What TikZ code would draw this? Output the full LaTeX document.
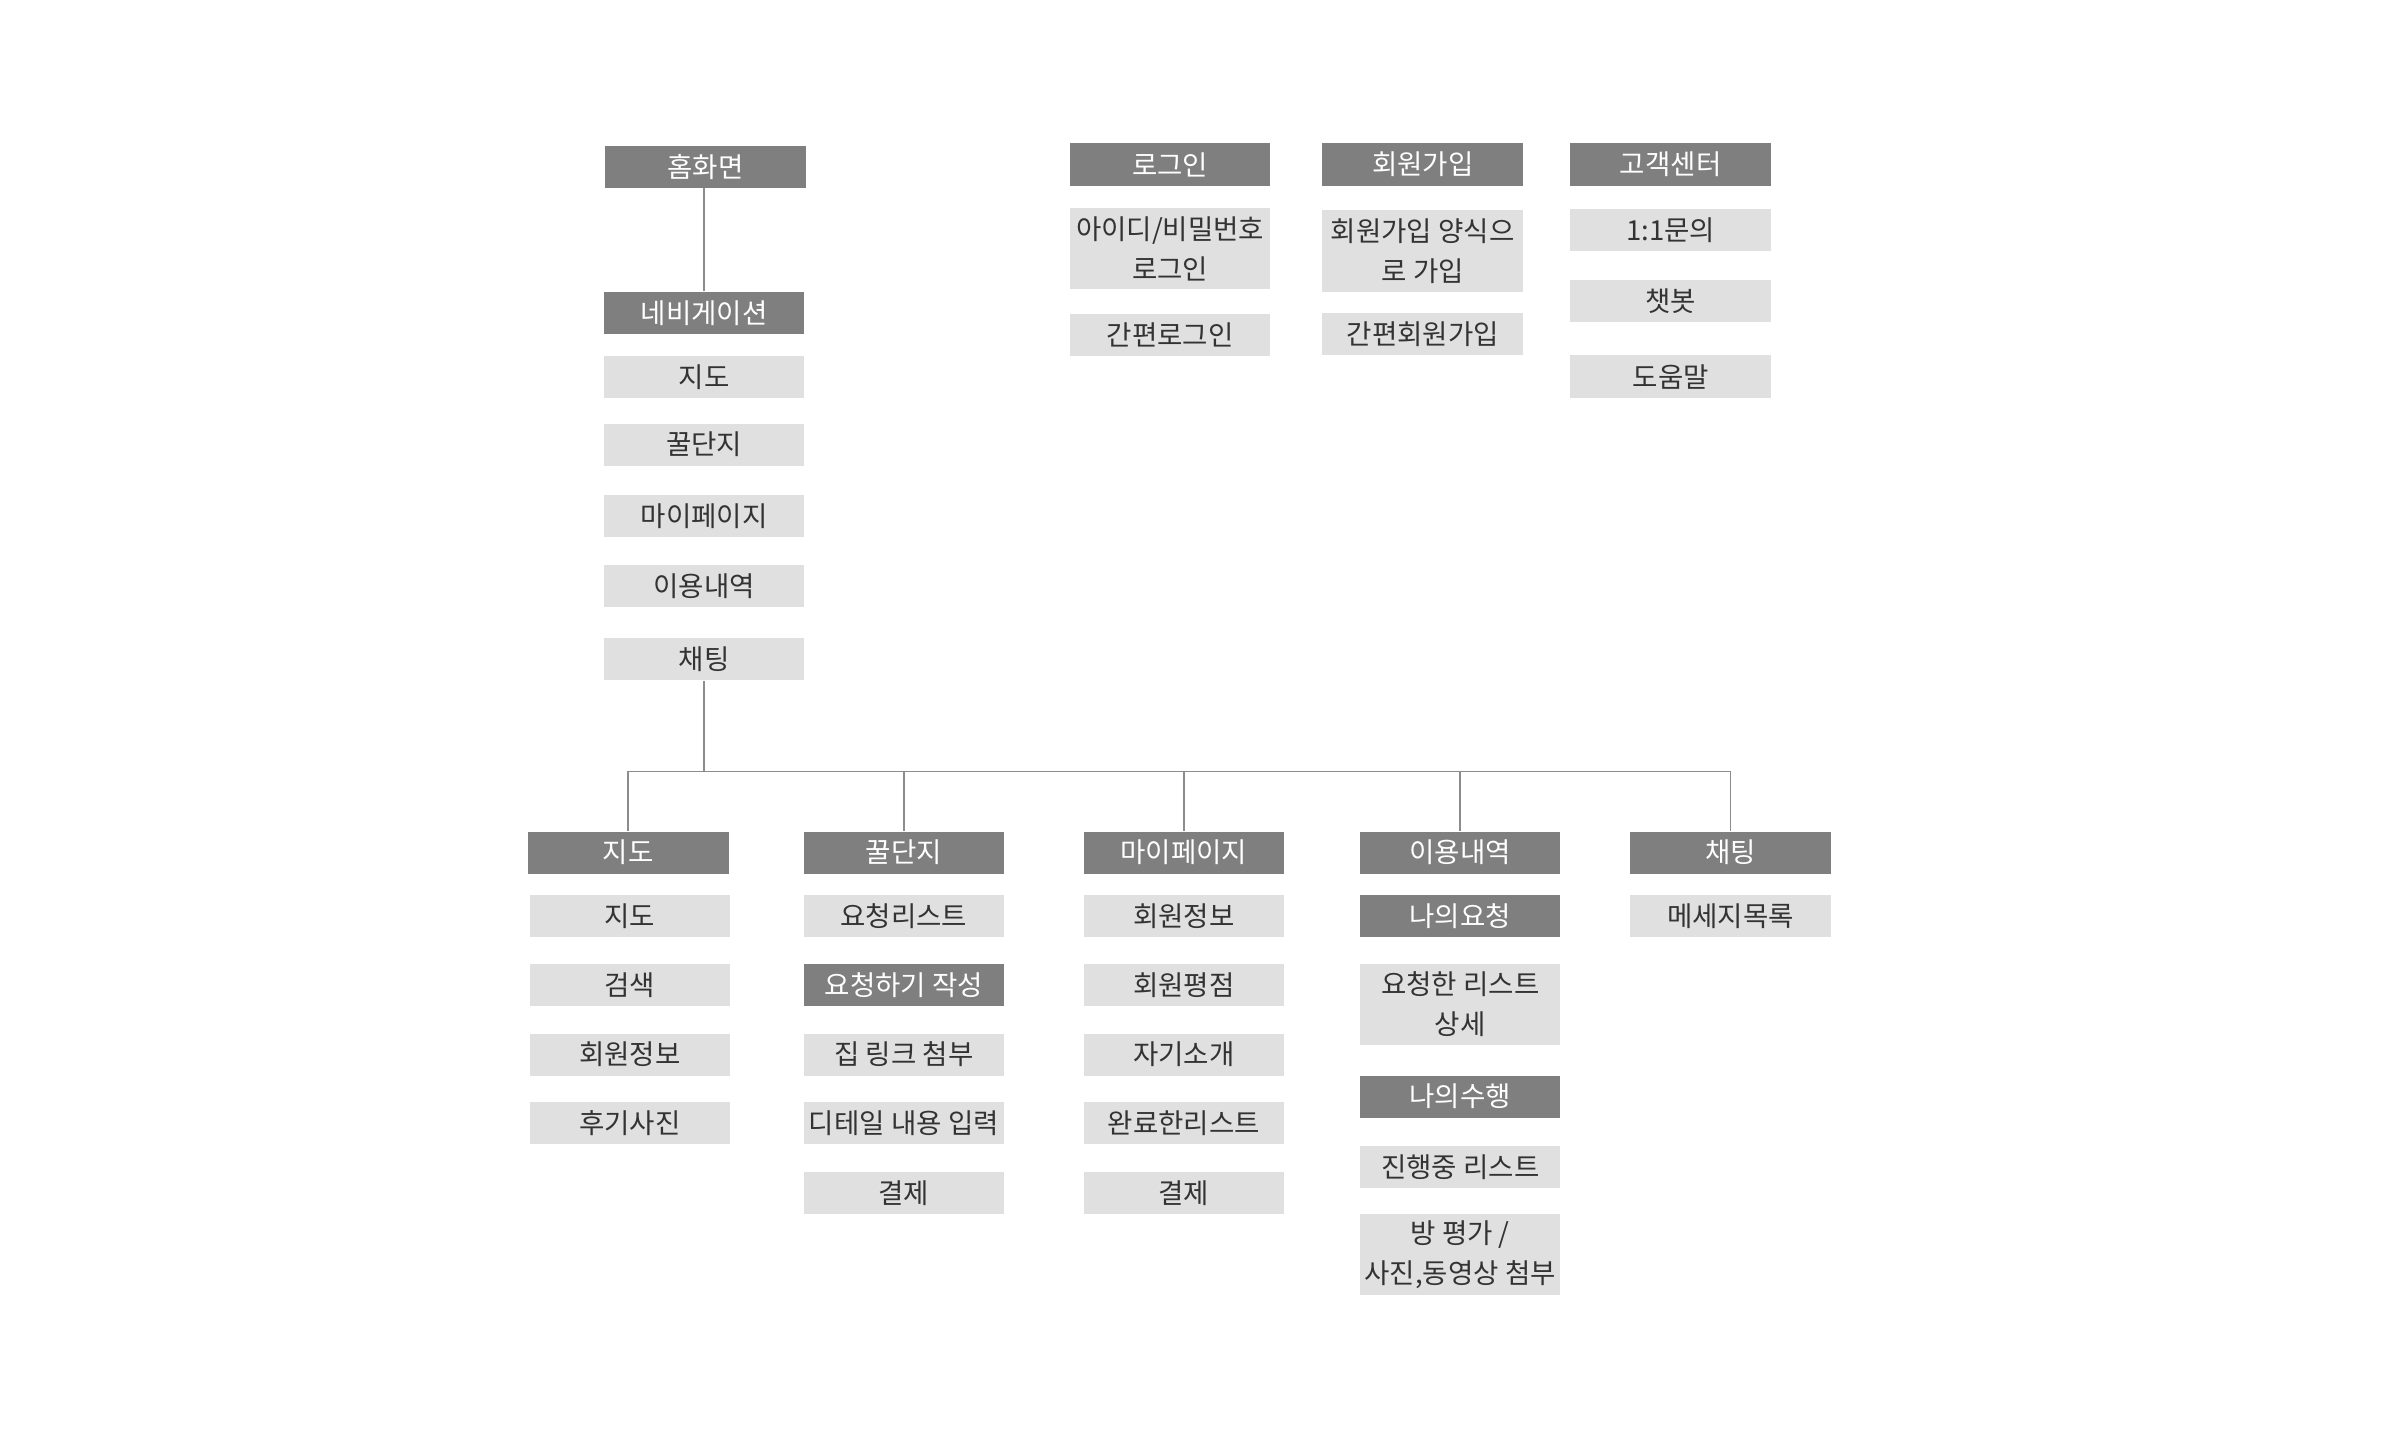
\documentclass[tikz,border=0pt]{standalone}
\usepackage{fontspec}
\setmainfont{Noto Sans CJK KR}
\definecolor{boxdark}{HTML}{7F7F7F}
\definecolor{boxlight}{HTML}{E0E0E0}
\definecolor{textdark}{HTML}{333333}
\definecolor{linkgray}{HTML}{8C8C8C}
\begin{document}
\begin{tikzpicture}[x=0.5pt,y=-0.5pt,
  box/.style={minimum width=65.5pt, minimum height=13.75pt, inner sep=0pt,
              font=\fontsize{9}{13}\selectfont, align=center},
  dk/.style={box, fill=boxdark, text=white},
  lt/.style={box, fill=boxlight, text=textdark},
  tall/.style={minimum height=26.5pt},
  link/.style={draw=linkgray, line width=0.55pt}]
\useasboundingbox[fill=white] (0,0) rectangle (1568,941);

% navigation column
\node[dk] (home) at (461,109) {홈화면};
\node[dk] (nav)  at (460,204.5) {네비게이션};
\node[lt] (n1) at (460,246.5) {지도};
\node[lt] (n2) at (460,290.5) {꿀단지};
\node[lt] (n3) at (460,337) {마이페이지};
\node[lt] (n4) at (460,383) {이용내역};
\node[lt] (n5) at (460,430.5) {채팅};

% account and support groups
\node[dk] (login) at (764.5,107.5) {로그인};
\node[lt,tall] (login1) at (764.5,162.5) {아이디/비밀번호\\로그인};
\node[lt] (login2) at (764.5,219) {간편로그인};

\node[dk] (join) at (929.5,107.5) {회원가입};
\node[lt,tall] (join1) at (929.5,164) {회원가입 양식으\\로 가입};
\node[lt] (join2) at (929.5,218.5) {간편회원가입};

\node[dk] (cs) at (1091.5,107.5) {고객센터};
\node[lt] (cs1) at (1091.5,150.5) {1:1문의};
\node[lt] (cs2) at (1091.5,196.5) {챗봇};
\node[lt] (cs3) at (1091.5,246) {도움말};

% menu branches
\node[dk] (b1) at (410.5,557) {지도};
\node[lt] (b1a) at (411.5,598.5) {지도};
\node[lt] (b1b) at (411.5,643.5) {검색};
\node[lt] (b1c) at (411.5,689) {회원정보};
\node[lt] (b1d) at (411.5,733.5) {후기사진};

\node[dk] (b2) at (590.5,557) {꿀단지};
\node[lt] (b2a) at (590.5,598.5) {요청리스트};
\node[dk] (b2b) at (590.5,643.5) {요청하기 작성};
\node[lt] (b2c) at (590.5,689) {집 링크 첨부};
\node[lt] (b2d) at (590.5,733.5) {디테일 내용 입력};
\node[lt] (b2e) at (590.5,779.5) {결제};

\node[dk] (b3) at (773.5,557) {마이페이지};
\node[lt] (b3a) at (773.5,598.5) {회원정보};
\node[lt] (b3b) at (773.5,643.5) {회원평점};
\node[lt] (b3c) at (773.5,689) {자기소개};
\node[lt] (b3d) at (773.5,733.5) {완료한리스트};
\node[lt] (b3e) at (773.5,779.5) {결제};

\node[dk] (b4) at (954,557) {이용내역};
\node[dk] (b4a) at (954,598.5) {나의요청};
\node[lt,tall] (b4b) at (954,656) {요청한 리스트\\상세};
\node[dk] (b4c) at (954,716.5) {나의수행};
\node[lt] (b4d) at (954,762.5) {진행중 리스트};
\node[lt,tall] (b4e) at (954,819.5) {방 평가 /\\사진,동영상 첨부};

\node[dk] (b5) at (1130.5,557) {채팅};
\node[lt] (b5a) at (1130.5,598.5) {메세지목록};

% connectors
\coordinate (bus) at (460,504);
\draw[link] (nav.north) -- (nav.north |- home.south);
\draw[link] (n5.south) -- (bus);
\draw[link] (b1.north) -- (b1.north |- bus) -- (b5.north |- bus) -- (b5.north);
\foreach \b in {b2,b3,b4} \draw[link] (\b.north) -- (\b.north |- bus);
\end{tikzpicture}
\end{document}
